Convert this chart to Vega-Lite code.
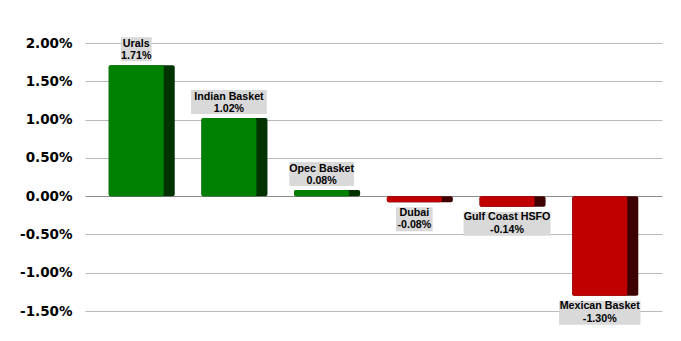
{
  "$schema": "https://vega.github.io/schema/vega-lite/v6.json",
  "width": 577,
  "height": 268,
  "autosize": {"type": "none"},
  "padding": {"left": 85, "top": 43, "right": 19, "bottom": 30},
  "background": "white",
  "config": {"view": {"stroke": null}},
  "data": {"values": [
    {"name": "Urals", "v": 0.0171},
    {"name": "Indian Basket", "v": 0.0102},
    {"name": "Opec Basket", "v": 0.0008},
    {"name": "Dubai", "v": -0.0008},
    {"name": "Gulf Coast HSFO", "v": -0.0014},
    {"name": "Mexican Basket", "v": -0.013}
  ]},
  "transform": [
    {"calculate": "replace(format(datum.v, '.2%'), '\u2212', '-')", "as": "lab"},
    {"calculate": "datum.name + '\\n' + datum.lab", "as": "txt"},
    {"calculate": "max(length(datum.name), length(datum.lab)) * 5.6 + 3", "as": "bw"}
  ],
  "encoding": {
    "x": {"field": "name", "type": "nominal", "sort": null, "axis": null,
          "scale": {"paddingInner": 0.288, "paddingOuter": 0.256}}
  },
  "layer": [
    {
      "mark": {"type": "bar", "cornerRadius": 2},
      "encoding": {
        "y": {"field": "v", "type": "quantitative",
              "scale": {"domain": [-0.015, 0.02], "nice": false},
              "axis": {"title": null, "values": [-0.015, -0.01, -0.005, 0, 0.005, 0.01, 0.015, 0.02],
                       "tickCount": 20,
                       "format": ".2%", "labelExpr": "replace(datum.label, '\u2212', '-')",
                       "labelOverlap": false, "labelBound": false,
                       "domain": false, "ticks": false, "labelPadding": 13,
                       "labelFont": "DejaVu Sans", "labelFontWeight": "bold", "labelFontSize": 13.5,
                       "labelColor": "#000000",
                       "gridColor": {"condition": {"test": "datum.value === 0", "value": "#8c8c8c"}, "value": "#b8b8b8"},
                       "gridWidth": 1}},
        "y2": {"datum": 0},
        "color": {"condition": {"test": "datum.v < 0", "value": "#3f0000"}, "value": "#003300"}
      }
    },
    {
      "mark": {"type": "bar", "cornerRadius": 2, "width": 55, "xOffset": -5.5},
      "encoding": {
        "y": {"field": "v", "type": "quantitative"},
        "y2": {"datum": 0},
        "color": {"condition": {"test": "datum.v < 0", "value": "#c00000"}, "value": "#008000"}
      }
    },
    {
      "mark": {"type": "bar", "color": "#d9d9d9", "width": {"expr": "datum.bw"}, "xOffset": -5.5,
               "yOffset": {"expr": "datum.v < 0 ? 5 : -28"}, "y2Offset": {"expr": "datum.v < 0 ? 29 : -4"}},
      "encoding": {
        "y": {"field": "v", "type": "quantitative"},
        "y2": {"field": "v"}
      }
    },
    {
      "mark": {"type": "text", "lineBreak": "\n", "font": "Liberation Sans", "fontWeight": "bold",
               "fontSize": 10.7, "lineHeight": 12.5, "baseline": "middle", "align": "center",
               "color": "#000000", "xOffset": -5.5,
               "yOffset": {"expr": "datum.v < 0 ? 10.5 : -21.5"}},
      "encoding": {
        "y": {"field": "v", "type": "quantitative"},
        "text": {"field": "txt"}
      }
    }
  ]
}
